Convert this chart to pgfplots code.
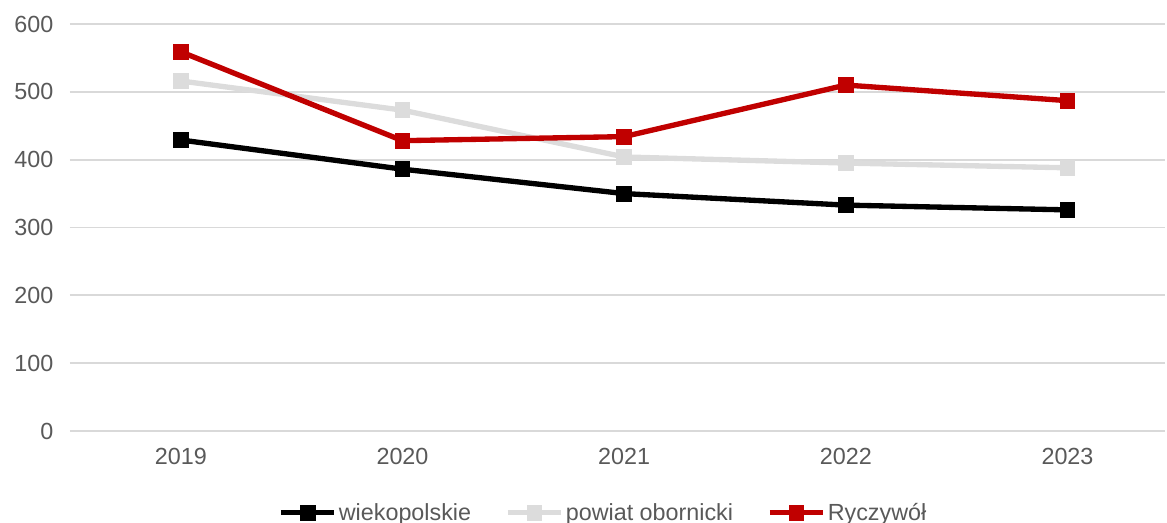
\documentclass[border=0pt]{standalone}
\usepackage{fontspec}
\setmainfont{Liberation Sans}
\usepackage{pgfplots}
\pgfplotsset{compat=1.18}
\definecolor{txtgray}{HTML}{595959}
\definecolor{gridgray}{HTML}{D9D9D9}
\definecolor{lgray}{HTML}{DCDCDC}
\definecolor{dred}{HTML}{C00000}
\begin{document}
\begin{tikzpicture}
\begin{axis}[
  scale only axis,
  width=821.25pt, height=305.25pt,
  xmin=-0.5, xmax=4.44,
  ymin=0, ymax=600,
  ytick={0,100,...,600},
  xtick={0,1,2,3,4},
  xticklabels={2019,2020,2021,2022,2023},
  axis line style={draw=none},
  major tick length=0pt,
  ymajorgrids,
  major grid style={gridgray, line width=1.3pt},
  font=\fontsize{17.5}{21}\selectfont,
  tick label style={text=txtgray, font=\fontsize{17.5}{21}\selectfont},
  /pgf/number format/assume math mode=true,
  yticklabel style={xshift=-9pt},
  xticklabel style={yshift=-9pt},
  legend style={at={(0.487,-0.201)}, anchor=center, draw=none, fill=none,
    legend columns=-1, text=txtgray,
    nodes={inner sep=1.5pt},
    /tikz/every even column/.append style={column sep=24pt}},
  legend image code/.code={\draw[mark repeat=2, mark phase=2, #1] plot coordinates {(0pt,0pt) (20pt,0pt) (40pt,0pt)};},
  every axis plot/.append style={line width=4pt, mark=square*, mark size=5.6pt, mark options={solid, line width=0pt}},
]
\addplot[color=black] coordinates {(0,429) (1,386) (2,350) (3,333) (4,326)};
\addlegendentry{wiekopolskie}
\addplot[color=lgray] coordinates {(0,516) (1,473) (2,404) (3,395) (4,388)};
\addlegendentry{powiat obornicki}
\addplot[color=dred] coordinates {(0,559) (1,428) (2,434) (3,510) (4,487)};
\addlegendentry{Ryczywół}
\end{axis}
\pgfresetboundingbox
\path (current axis.south west) ++(-52.5pt,-68.25pt) rectangle ++(875.25pt,391.5pt);
\end{tikzpicture}
\end{document}
